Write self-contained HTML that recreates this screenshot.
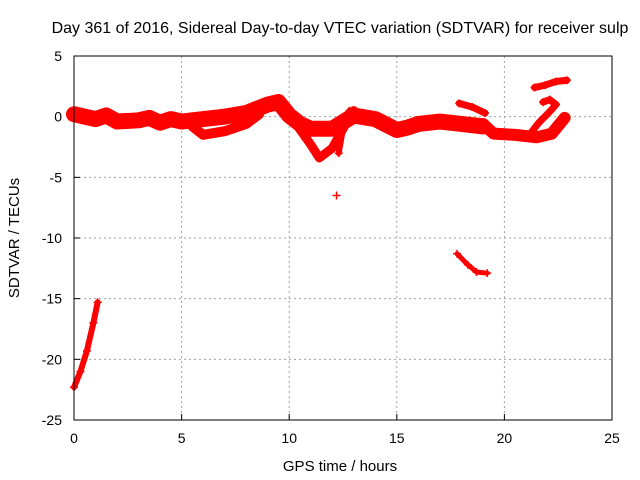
<!DOCTYPE html>
<html><head><meta charset="utf-8"><style>
body{margin:0;background:#fff}
svg{display:block;font-family:"Liberation Sans",sans-serif}
</style></head><body>
<svg id="chart" width="640" height="480" xmlns="http://www.w3.org/2000/svg">
<text x="340" y="33" font-size="16" text-anchor="middle">Day 361 of 2016, Sidereal Day-to-day VTEC variation (SDTVAR) for receiver sulp</text>
<text x="340" y="471" font-size="15" text-anchor="middle">GPS time / hours</text>
<text x="19" y="238" font-size="15" text-anchor="middle" transform="rotate(-90 19 238)">SDTVAR / TECUs</text>
<g id="grid"></g><g id="marks"></g>
<rect x="74" y="56" width="538" height="364" fill="none" stroke="#000" stroke-width="1"/>
</svg>
<script>
const xTicks=[0,5,10,15,20,25];
const yTicks=[5,0,-5,-10,-15,-20,-25];
const traceMainH=[0,0.5,1,1.5,2,3,3.5,4,4.5,5,6,7,8,9,9.5,10,10.5,11,12,13,14,15,15.5,16,17,18,19];
const traceMainV=[0.2,0.0,-0.2,0.1,-0.4,-0.3,-0.1,-0.5,-0.2,-0.4,-0.2,0,0.3,1.0,1.2,0.1,-0.6,-1.0,-1.0,0.1,-0.2,-1.1,-0.9,-0.6,-0.4,-0.6,-0.8];
const traceLowH=[5.5,6,7,8,8.6];
const traceLowV=[-0.8,-1.5,-1.2,-0.6,0.2];
const traceDipH=[10.4,11,11.4,12,12.5,13];
const traceDipV=[-0.8,-2.3,-3.4,-2.6,-1.0,0.5];
const traceDip2H=[12.8,12.5,12.3];
const traceDip2V=[0.5,-1.0,-3.0];
const traceUpH=[17.9,18.5,19.1];
const traceUpV=[1.1,0.8,0.3];
const traceRightH=[19.0,19.5,20.5,21.5,22.2,22.8];
const traceRightV=[-0.6,-1.4,-1.5,-1.7,-1.4,-0.1];
const traceLoopH=[21.2,21.6,22.1,22.4,22.1,21.8];
const traceLoopV=[-1.4,-0.5,0.4,1.0,1.4,1.2];
const traceArcH=[21.4,21.9,22.4,22.9];
const traceArcV=[2.4,2.6,2.9,3.0];
const traceLeftH=[0,0.3,0.6,0.9,1.1];
const traceLeftV=[-22.3,-21,-19.3,-17,-15.3];
const traceDropH=[17.8,18.3,18.7,19.2];
const traceDropV=[-11.3,-12.2,-12.8,-12.9];
const isolatedH=[12.2];
const isolatedV=[-6.5];
const NS='http://www.w3.org/2000/svg';
const X=h=>74+h*538/25, Y=v=>56+(5-v)*364/30;
const grid=document.getElementById('grid'), marks=document.getElementById('marks');
function mk(t,a,p){const e=document.createElementNS(NS,t);for(const k in a)e.setAttribute(k,a[k]);p.appendChild(e);return e;}
xTicks.forEach(t=>{
 if(t>0&&t<25){const g=mk('line',{x1:X(t),x2:X(t),y1:56,y2:420,stroke:'#a0a0a0','stroke-dasharray':'2,3'},grid);
 
 }
 const tk=mk('line',{x1:X(t),x2:X(t),y1:420,y2:414,stroke:'#000'},grid);
 
 
 const l=mk('text',{x:X(t),y:443,'font-size':14,'text-anchor':'middle'},grid);l.textContent=t;
 
 
});
yTicks.forEach(t=>{
 if(t<5&&t>-25){const g=mk('line',{x1:74,x2:612,y1:Y(t),y2:Y(t),stroke:'#a0a0a0','stroke-dasharray':'2,3'},grid);
 
 }
 const tk=mk('line',{x1:74,x2:80,y1:Y(t),y2:Y(t),stroke:'#000'},grid);
 
 
 const l=mk('text',{x:62,y:Y(t)+5,'font-size':14,'text-anchor':'end'},grid);l.textContent=t;
 
 
});
function trace(H,V,w,name){
 const pl=mk('polyline',{points:H.map((h,i)=>X(h)+','+Y(V[i])).join(' '),fill:'none',stroke:'#f00','stroke-width':w,'stroke-linejoin':'round','stroke-linecap':'round'},marks);
 
 
 H.forEach((h,i)=>{const c=mk('path',{d:`M${X(h)-4},${Y(V[i])}h8M${X(h)},${Y(V[i])-4}v8`,stroke:'#f00','stroke-width':1.5},marks);
 
 });
}
trace(traceMainH,traceMainV,16,'main-band');
trace(traceLowH,traceLowV,10,'lower-branch');
trace(traceDipH,traceDipV,9,'dip-branch');
trace(traceDip2H,traceDip2V,6,'dip-branch-2');
trace(traceUpH,traceUpV,7,'upper-branch');
trace(traceRightH,traceRightV,12,'right-band');
trace(traceLoopH,traceLoopV,7,'loop-branch');
trace(traceArcH,traceArcV,7,'arc-branch');
trace(traceLeftH,traceLeftV,6,'left-recovery');
trace(traceDropH,traceDropV,5,'drop-branch');
trace(isolatedH,isolatedV,0,'isolated-point');
</script>
</body></html>
